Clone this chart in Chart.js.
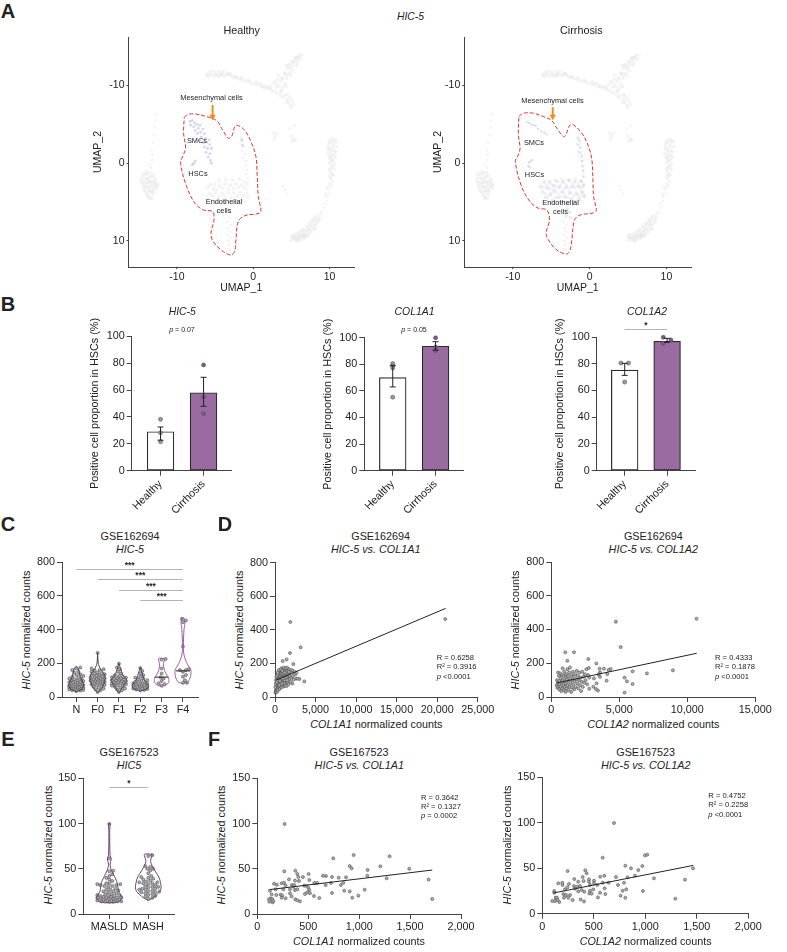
<!DOCTYPE html>
<html lang="en">
<head>
<meta charset="UTF-8" />
<title>HIC-5 figure</title>
<script src="https://cdn.jsdelivr.net/npm/chart.js"></script>
<style>
  html, body { margin: 0; background: #fff; }
  #page { position: relative; width: 787px; height: 952px; overflow: hidden; font-family: "Liberation Sans", Arial, sans-serif; color: #222; }
  canvas { position: absolute; }
  .t { position: absolute; white-space: nowrap; line-height: 1; }
</style>
</head>
<body>
<div id="page"></div>
<script>
// ---------- panel A: UMAP values ----------
const umapBackground = [
  [-14.7,2.2],[-14.5,1.4],[-14.4,2.9],[-14.2,1.9],[-14.2,3.5],[-14,2.6],[-14,1],[-13.9,4.1],[-13.8,3.1],[-13.7,1.8],[-13.6,4.5],[-13.5,2.3],[-13.5,3.7],[-13.4,1.2],[-13.3,2.9],[-13.2,4],[-13.1,3.3],[-13,2.2],[-12.9,3],[-12.8,2.5],[-12.6,3.2],[-12.5,2.7],[-14.3,2.4],[-13.9,2.1],[-13.6,3],
  [-14.6,1.8],[-14.6,2.6],[-14.4,3.3],[-14.1,1.4],[-14.1,3],[-14,3.8],[-13.8,1.3],[-13.8,2.5],[-13.7,3.5],[-13.7,4.3],[-13.4,1.7],[-13.4,2.5],[-13.3,3.5],[-13.3,4.5],[-13.1,1.6],[-13.1,2.6],[-13,3.7],[-12.8,2],[-12.7,2.9],
  [-6.1,-11.4],[-5.8,-11.6],[-5.4,-11.3],[-5.1,-11.8],[-4.8,-11.5],[-4.5,-11.9],[-4.2,-11.6],[-3.9,-11.8],[-3.6,-11.3],[-3.2,-11.5],[-2.8,-11.2],[-2.5,-11],[-2.1,-11],[-1.7,-10.8],[-1.2,-10.6],[-0.8,-10.6],[-0.3,-10.3],[0.2,-10.2],[0.6,-10.1],[1.1,-9.9],[1.5,-9.7],[2,-9.6],[2.4,-9.4],[2.8,-9.2],[3.2,-9],[3.6,-8.7],[3.9,-8.5],[4.2,-8.8],[4.4,-8.2],[4.6,-7.9],[4.8,-7.5],[5,-7.2],[4.3,-7.8],[3.7,-9.2],[4.5,-8.8],
  [-5.9,-11.2],[-5.5,-11.8],[-5,-11.3],[-4.6,-11.2],[-4.3,-11.3],[-4,-11.3],[-3.4,-11.6],[-3,-11.5],[-2.3,-11.2],[-1.5,-11],[-0.5,-10.6],[0.4,-10.5],[0.9,-10.3],[1.3,-10],[1.8,-9.9],[2.2,-9.8],
  [6.4,-13.9],[6.2,-13.4],[5.9,-13.6],[5.6,-13.3],[5.3,-13],[5.8,-12.9],[5.1,-12.5],[4.8,-12.8],[4.5,-12.2],[5.2,-11.9],[4.7,-11.6],[4.2,-11.6],[3.9,-11],[4.4,-10.9],[3.6,-10.5],[3.2,-10.8],[4.1,-10.2],[3.4,-9.9],[2.8,-10.5],[3,-9.8],[2.5,-10.2],
  [6,-13.9],[5.7,-13.6],[5.4,-13.6],[5.6,-12.6],[5.1,-13.1],[4.9,-12.2],[4.6,-12.6],[4.3,-12.6],[4.9,-11.3],[4.4,-11.3],[4,-11.6],[3.7,-10.9],[3.3,-11.3],[4.3,-9.9],[3.9,-9.7],[3.1,-10.2],[3.6,-9.4],[4.8,-8.4],[5.1,-8.1],[5.3,-7.6],
  [2.6,-3.9],[2.9,-3.5],[2.7,-3.1],[3.1,-3.9],[5,-3.5],[5.3,-3.1],[5.1,-2.8],[5.5,-3],
  [10.1,-3],[10.5,-3.1],[10.9,-2.8],[9.9,-2.4],[10.4,-2.5],[11,-2.1],[9.8,-1.8],[10.3,-1.9],[10.8,-1.5],[9.8,-1.2],[10.3,-1.1],[10.8,-0.8],[10,-0.6],[10.5,-0.4],[10,0],[10.6,0.1],[10.2,0.5],[10.6,0.8],[10.1,1.1],[10.5,1.5],[10.2,1.9],[10.4,2.3],[10,2.6],[10.2,3],
  [10,-2.7],[10.6,-2.8],[9.9,-2],[10.6,-2.2],[10.1,-1.5],[10.5,-1.6],[10,-0.9],[10.6,-1],[10.3,-0.6],[10.2,-0.2],[10.4,0.4],[10,0.8],[10.3,1.4],[10,1.7],[9.7,3.1],[9.5,4],
  [8.8,6.5],[8.4,6.8],[8.7,7.1],[8.1,7.2],[8.4,7.6],[7.8,7.5],[8.2,8],[7.5,7.9],[7.9,8.4],[7.2,8.2],[7.6,8.8],[7,8.6],[7.3,9.1],[6.7,8.8],[6.9,9.4],[6.4,9.1],[6.6,9.7],[6.1,9.3],[6.2,9.8],[5.8,9.4],[5.9,10],[5.5,9.5],[5.6,9.9],[5.2,9.5],[6.7,9.4],[7.4,8.5],[8,7.8],[6.3,8.7],[5,9.9],
  [8.5,7.3],[8,6.9],[8.1,8.5],[7.7,8.1],[7.3,7.7],[7.2,8.8],[6.9,8.1],[6.8,9.1],[6.5,8.5],[6.5,9.3],[6.2,9.4],[6,8.9],[5.9,9.7],[5.6,9.1],[5.4,9.7],[5.2,9.2],[7.1,9.3],[7.7,7.3],[5,9.5]
];
const umapThin = [
  [-13.4,0.6],[-13.6,0.2],[-13.3,-0.4],[-13.2,-1.1],[-13.3,-1.7],[-13.2,-2.6],[-13,-3.6],[-12.9,-4.6],[-12.8,-5.5],[-12.7,-6.3],
  [9.8,3.4],[9.9,3.9],[9.6,4.3],[9.6,4.8],[9.3,5.2],[9.2,5.7],[9,6.2],
  [4.8,-4.5],[5.4,-4.8],[3.9,2.9],[4.2,3.4],[4.4,3.9],
  [-1.6,-3.3],[-1.4,-2.9],[-1.7,-2.5],[-1.3,-2.1],[-1.5,-1.6],[-1.1,-1.2],[-1.3,-0.7],[-0.9,-0.3],[-1,0.3],[-0.8,0.8],[-0.9,1.4],[-0.7,1.9],
  [-3.2,6.1],[-3.5,6.6],[-3.1,7],[-3.4,7.5],[-3,7.9],[-3.3,8.4],[-3.1,8.8],[-3.4,9.2],[-3,9.6],[-3.3,10],[-3.1,10.5],[-3.3,11],[-3,11.2]
];
const umapVessel = [
  [-6,3.1],[-5.6,2.8],[-5.2,3.3],[-5,2.7],[-4.7,3.4],[-4.4,2.9],[-4,3.2],[-3.7,2.7],[-3.3,3.3],[-3,2.8],[-2.6,3.2],[-2.3,2.7],[-1.9,3.1],[-1.5,2.8],[-1.1,3.2],[-0.8,2.7],[-5.7,3.9],[-5.3,4.2],[-4.9,3.8],[-4.5,4.4],[-4.1,3.9],[-3.7,4.3],[-3.3,3.8],[-2.9,4.4],[-2.5,3.8],[-2.1,4.2],[-1.7,3.8],[-1.3,4.2],[-0.9,3.8],[-0.7,4.3],[-5.4,4.8],[-4.9,5],[-4.3,4.9],[-3.8,5.1],[-3.2,4.9],[-2.6,5],[-2,4.9],[-1.5,4.8],[-1,4.9],[-4.5,2.2],[-3.6,2.1],[-2.7,2.2],[-1.8,2],[-1.1,2.3]
];
const smcHealthy = [
  [-8.3,-5.4],[-8,-5.5],[-7.7,-5.2],[-8.2,-4.9],[-7.8,-4.7],[-7.4,-5],[-7.2,-4.5],[-7.6,-4.2],[-7,-4.9],[-6.9,-4],[-7.3,-3.8],[-6.6,-4.4],[-6.4,-3.8],[-6.8,-3.4],[-7,-2.9],[-6.3,-3.2],[-6.1,-2.7],[-6.6,-2.6],[-5.8,-3],[-5.7,-2.4],[-6.4,-2.1],[-6,-1.9],[-5.5,-1.9],[-6.2,-1.4],[-5.7,-1.2],[-5.9,-0.8],[-5.6,-0.4],[-5.5,0],[-7.8,0],[-8,0.2],[-7.6,-0.3],[-1.5,-3],[-1.4,-2.3]
];
const smcCirrhosis = [
  [-8.2,-5.3],[-7.9,-5.2],[-7.6,-5],[-7.3,-4.9],[-7,-4.8],[-6.7,-4.4],[-6.3,-4.1],[-5.9,-3.9],[-5.6,-3.7],[-7.9,-0.1],[-7.7,-0.2],[-7.5,-0.4],[-8,0.3],[-7.8,0.5],
  [-1.5,-3.2],[-1.3,-2.9],[-1.5,-2.4],[-1.2,-2],[-1.3,-1.4],[-1,-0.9],[-1,-0.3],[-0.9,0.4],[-0.8,1],[-0.8,1.7]
];
const endoCirrhosis = [
  [-6.4,3],[-6.1,3.7],[-5.9,2.4],[-5.7,4.4],[-5.5,3.2],[-5.2,2.4],[-5.1,4],[-4.8,4.8],[-4.7,2.9],[-4.5,3.6],[-4.2,2.3],[-4.1,4.4],[-3.9,3],[-3.7,5],[-3.6,3.7],[-3.4,2.4],[-3.2,4.3],[-3,3.1],[-2.9,5.2],[-2.7,2.2],[-2.6,3.8],[-2.4,4.6],[-2.2,3],[-2,5],[-1.9,2.4],[-1.7,4],[-1.4,3],[-1.3,4.6],[-1.1,2.3],[-1,3.7],[-0.8,2.9],[-0.7,4.2],[-2.9,5.9],[-2.6,6.3],[-3,6.7],[-2.5,7]
];
const outlineHealthy = [
  [-9.04,-5.92],[-8.52,-6.31],[-7.42,-6.31],[-6.11,-6.01],[-4.8,-5.49],[-4.15,-4.51],[-3.28,-3.22],[-2.84,-3.43],[-2.4,-4.72],[-1.97,-4.85],[-1.09,-4.21],[-0.22,-2.58],[0.35,-0.86],[0.52,1.72],[0.66,4.29],[1,6.22],[0.44,6.52],[-1.09,6.74],[-1.97,7.51],[-2.27,9.87],[-2.4,11.16],[-2.84,11.8],[-3.93,11.37],[-5.24,10.09],[-5.55,9.01],[-5.15,7.3],[-5.33,6.22],[-6.55,6.01],[-7.64,5.15],[-8.73,3],[-9.52,0],[-9.17,-1.07],[-8.86,-1.93],[-9.13,-3.86],[-9.04,-5.92]
];
const outlineCirrhosis = [
  [-9.19,-6.01],[-8.62,-6.44],[-7.31,-6.44],[-6.01,-6.01],[-4.92,-5.49],[-4.27,-4.51],[-3.4,-3.43],[-3.09,-3.65],[-2.53,-4.94],[-2.09,-4.94],[-1,-3.86],[-0.13,-2.15],[0.3,-0.43],[0.44,2.15],[0.52,4.29],[0.87,6.09],[0.3,6.44],[-1.22,6.65],[-1.96,7.3],[-2.31,9.87],[-2.53,11.16],[-2.96,11.67],[-4.27,11.16],[-5.35,9.87],[-5.66,9.01],[-5.22,7.3],[-5.57,6.01],[-6.66,5.79],[-7.75,4.94],[-8.84,3],[-9.66,-0.21],[-9.27,-1.07],[-9.05,-1.93],[-9.27,-3.86],[-9.19,-6.01]
];
const arrowHealthy = [[-5.33,-7.5],[-5.33,-6]];
const arrowCirrhosis = [[-4.79,-7.2],[-4.79,-6]];
const umapTicks = [-10, 0, 10];

// ---------- panel B: bars ----------
const groupsB = ['Healthy', 'Cirrhosis'];
const percentTicks = [0, 20, 40, 60, 80, 100];
const hic5Bars = [29, 58], hic5Hi = [32.5, 69.5], hic5Lo = [22.7, 48];
const hic5Dots = [[0,38.2],[0,28.3],[0,21.6],[1,78.7],[1,54.8],[1,42.4]];
const col1a1Bars = [70, 93.6], col1a1Hi = [79, 97], col1a1Lo = [63, 90.6];
const col1a1Dots = [[0,80.6],[0,78.8],[0,77.3],[0,55.3],[1,99.9],[1,93],[1,90.4]];
const col1a2Bars = [75.3, 96.8], col1a2Hi = [80.3, 99], col1a2Lo = [71.3, 96];
const col1a2Dots = [[-0.09,80.5],[0.09,80.5],[0,66.3],[0.91,99.8],[1.09,97.8],[0.91,95.3]];

// ---------- panel C: violins ----------
const stages = ['N', 'F0', 'F1', 'F2', 'F3', 'F4'];
const countTicks = [0, 200, 400, 600, 800];
const hic5N = [175,170,160,150,145,135,130,125,120,115,110,108,105,100,100,95,92,90,88,85,85,82,80,78,75,72,70,70,68,65,65,62,60,60,58,55,55,52,50,50,48,45,42,40,38,35];
const hic5F0 = [262,170,165,160,158,150,145,140,138,135,132,130,128,125,120,118,115,112,110,108,105,102,100,98,95,92,90,88,85,82,80,78,75,72,70,65,60,55,50,45,40,30];
const hic5F1 = [198,175,165,150,140,130,125,120,118,115,112,110,108,105,102,100,98,95,92,90,88,85,82,80,78,75,72,68,65,60,55,50,45,40,30];
const hic5F2 = [172,155,140,130,120,115,110,105,100,95,90,88,85,82,80,78,75,72,70,68,65,62,60,58,55,55,52,50,48,45,42,40];
const hic5F3 = [226,222,170,140,117,110,95,81,77,67];
const hic5F4 = [464,455,445,300,167,160,160,150,131,121,100,85,85];
// [count, half width as a share of one category]
const violinN = [[182,0],[170,.09],[120,.19],[70,.35],[50,.28],[30,0]];
const violinF0 = [[262,0],[200,.03],[170,.12],[130,.33],[100,.35],[60,.23],[25,0]];
const violinF1 = [[200,0],[170,.07],[130,.19],[100,.37],[70,.23],[40,.09],[25,0]];
const violinF2 = [[175,0],[140,.09],[100,.19],[70,.37],[50,.33],[35,0]];
const violinF3 = [[228,.14],[190,.09],[150,.16],[110,.33],[85,.33],[67,.14]];
const violinF4 = [[470,.05],[440,.09],[400,.05],[300,.02],[250,.05],[200,.19],[160,.37],[120,.35],[90,.23],[78,0]];
const medianStages = [[4,118],[5,155]];
const sigStages = [[0,5,762,'***'],[1,5,699,'***'],[2,5,635,'***'],[3,5,576,'***']];

// ---------- panel D ----------
const col1a1Counts = [
  [1890,447],[21000,464],[3165,296],[1850,262],[945,214],[1440,224],[2260,196],[3617,93],[3000,107],[2590,109],[2137,81],
  [60,25],[100,35],[120,28],[150,45],[180,38],[200,55],[220,30],[250,60],[260,42],[280,75],[300,50],[320,85],[340,62],[350,105],[370,40],[390,70],[400,120],[420,95],[440,55],[450,140],[470,78],[490,110],[510,65],[520,130],[540,90],[560,150],[580,48],[600,105],[610,125],[630,75],[650,160],[670,88],[680,135],[700,60],[720,115],[740,145],[760,95],[780,170],[800,70],[820,125],[840,105],[860,150],[880,85],[900,135],[920,60],[940,115],[960,165],[980,95],[1000,140],[1020,75],[1050,120],[1070,175],[1090,100],[1110,150],[1130,65],[1150,130],[1180,85],[1200,160],[1220,110],[1250,140],[1280,70],[1300,120],[1320,170],[1350,95],[1380,150],[1400,130],[1430,65],[1460,110],[1490,175],[1520,140],[1550,85],[1580,120],[1620,160],[1660,75],[1700,135],[1740,105],[1780,165],[1830,125],[1880,145],[1930,90],[2000,150],[2050,115],[2120,160],[2200,125],[2300,105],[2380,150],[2500,135],[2650,145],[2800,110],
  [40,60],[80,80],[130,100],[170,120],[230,90],[270,130],[330,145],[380,100],[460,160],[530,70],[620,95],[710,165],[830,80],[910,155],[1010,110],[1170,145],[1240,100],[1370,115],[1510,100],[1690,150]
];
const col1a2Counts = [
  [4750,446],[10680,464],[5100,296],[1030,265],[1670,265],[1176,215],[2720,225],[3310,199],[3550,168],[3870,168],[4210,160],[4360,166],[4070,97],[5390,115],[5560,93],[5390,26],[5980,77],[5980,152],[7030,140],[8940,158],[4116,136],[3577,146],[3480,134],[3330,81],[3430,38],[3280,47],[3090,61],[2790,49],[3577,120],[3136,110],[2793,115],
  [400,70],[420,100],[450,55],[480,85],[500,145],[520,65],[560,125],[580,45],[600,95],[620,75],[650,140],[680,60],[700,110],[730,35],[760,85],[780,130],[800,50],[830,170],[850,100],[880,70],[900,125],[920,40],[950,150],[970,90],[1000,60],[1020,115],[1050,30],[1080,135],[1100,80],[1130,50],[1150,105],[1180,165],[1200,70],[1230,125],[1260,40],[1280,95],[1310,145],[1340,60],[1370,175],[1400,110],[1430,80],[1460,30],[1490,130],[1520,55],[1550,100],[1580,150],[1610,75],[1640,120],[1680,45],[1710,95],[1750,135],[1790,60],[1830,105],[1870,155],[1910,80],[1950,125],[1990,50],[2030,100],[2070,145],[2110,70],[2150,115],[2190,35],[2230,90],[2280,150],[2320,60],[2370,120],[2420,85],[2470,135],[2520,100],[2580,165],[2640,75],[2700,130],[2760,172]
];
const fitD1 = [[100,100],[21050,528]];
const fitD2 = [[400,83],[10690,259]];
const xTicksD1 = [0, 5000, 10000, 15000, 20000, 25000];
const xTicksD2 = [0, 5000, 10000, 15000];

// ---------- panel E ----------
const groupsE = ['MASLD', 'MASH'];
const smallCountTicks = [0, 50, 100, 150];
const hic5Masld = [99.5,61.5,47.9,47.2,44,42,40,38,36.5,34,34,33,33,32,32,31,31,30,28,27,27,26,25,25,24,23,22,22,21,21,20,20,20,19,19,18.5,18,18,18,17,17,17,16,16,16,15,15,15,14,14,14,14,13.5,13.5];
const hic5Mash = [65,64,53,52,50,50,48,45,42,41,40,39,38,37,36,35,35,34,34,33,32,31,30,30,29,28,28,27,27,26,25,25,24,24,23,22,21,20,19,18,17];
const violinMasld = [[100,.02],[90,.01],[65,.02],[61,.05],[55,.02],[50,.04],[45,.09],[35,.2],[25,.24],[18,.33],[13,.23]];
const violinMash = [[66,.1],[58,.06],[50,.14],[40,.28],[30,.33],[25,.3],[18,.13],[15,0]];
const sigE = [[0,1,140,'*']];

// ---------- panel F ----------
const col1a1Small = [
  [268,99.5],[746,61.6],[946,65.2],[1299,63.8],[907,53],[926,50.5],[1208,52.7],[1492,50],[1083,48.7],[1682,38],[1718,16.6],[1270,39.4],[1080,42.4],[265,47.2],[373,47.9],[393,44.2],[504,44.2],[645,42.4],[674,42],[448,40.9],[403,40.9],[733,40.9],[799,40.2],[871,40.5],[311,38.3],[370,36.9],[409,36.5],[511,37.6],[566,33.9],[589,34.3],[560,34.3],[723,34.3],[844,34.6],[821,32],[671,32],[164,33.5],[193,32.4],[239,33.9],[262,34.6],[278,31.7],[461,31.3],[340,32],[353,30.2],[363,32],[501,29.1],[484,31],[511,26.5],[124,25.8],[180,27.3],[255,27.3],[320,27.3],[370,26.5],[393,27.3],[517,22.9],[491,24],[468,22.1],[733,23.2],[854,25.8],[907,25],[1054,26.9],[992,20.3],[933,18],[609,17.7],[556,19.9],[337,19.5],[229,21.4],[245,20.3],[187,21],[141,21.7],[278,17.3],[239,18],[373,16.2],[393,15.1],[419,14],[118,13.6],[131,17.3],[147,16.6],[151,12.9],[157,14.4],[115,16.2],[321,22.9]
];
const col1a2Small = [
  [696,99.5],[586,61.5],[997,64],[1019,64.8],[806,52.7],[861,49.8],[971,52.3],[932,47.9],[1463,49.8],[246,46.8],[417,47.6],[430,44.3],[392,40.2],[563,40.6],[602,41.7],[715,40.2],[828,39.9],[900,41.7],[1084,38.8],[1385,37.3],[1291,16.5],[977,24.9],[155,33.3],[194,34],[197,31.5],[259,32.6],[311,38],[349,35.1],[401,35.9],[453,37.7],[453,35.1],[502,36.2],[463,31.5],[502,33.3],[534,31.5],[586,34],[644,34],[735,31.5],[793,34],[780,25.2],[815,26.7],[605,27.8],[560,23],[612,21.6],[540,17.9],[760,19.8],[806,17.6],[116,24.9],[116,23],[220,26.7],[243,28.9],[307,30.4],[340,29.6],[366,30.4],[317,27.4],[349,24.5],[382,26],[408,24.1],[463,25.2],[495,26.7],[456,22.3],[479,22],[204,21.6],[230,20.5],[269,20.5],[252,17.6],[210,17.6],[294,15],[372,15.7],[405,13.5],[97,13.9],[129,17.6],[142,17.6],[123,13.9],[149,15],[165,12.8]
];
const fitF1 = [[124,27],[1718,48.6]];
const fitF2 = [[107,22.7],[1466,53]];
const xTicksF = [0, 500, 1000, 1500, 2000];

// ---------- helpers ----------
const page = document.getElementById('page');
const axisColor = '#444';
const fontFamily = '"Liberation Sans", Arial, sans-serif';
const purple = '#9a6ba1';
const toXY = a => a.map(p => ({ x: p[0], y: p[1] }));

function text(html, x, y, size, o = {}) {
  const el = document.createElement('div');
  el.className = 't';
  el.innerHTML = html;
  el.style.left = x + 'px';
  el.style.top = y + 'px';
  el.style.fontSize = size + 'px';
  if (o.bold) el.style.fontWeight = 'bold';
  el.style.transform = (o.left ? 'translate(0,-50%)' : 'translate(-50%,-50%)') + (o.rot ? ' rotate(' + o.rot + 'deg)' : '');
  page.appendChild(el);
}

function axis(values, min, max, o = {}) {
  return {
    type: 'linear', min, max, reverse: !!o.reverse, offset: false,
    afterBuildTicks: s => { s.ticks = values.map(value => ({ value })); },
    afterFit: s => { s.paddingLeft = s.paddingRight = s.paddingTop = s.paddingBottom = 0; },
    border: { display: true, color: axisColor, width: 1 },
    grid: { display: true, drawOnChartArea: false, drawTicks: true, tickLength: o.tick || 5, color: axisColor, offset: false },
    title: o.title ? { display: true, text: o.title, color: '#222', padding: 0, font: { family: fontFamily, size: o.titleSize || 10.8 } } : { display: false },
    ticks: {
      autoSkip: false, padding: 2, color: '#222', font: { family: fontFamily, size: o.font || 10.8 },
      minRotation: o.rot || 0, maxRotation: o.rot || 0,
      callback: v => o.labels ? o.labels[v] : v.toLocaleString('en-US')
    }
  };
}

// rect and plot are [left, top, right, bottom] on the page
function panel(rect, plot, type, datasets, xAxis, yAxis, plugins = []) {
  const c = document.createElement('canvas');
  c.width = rect[2] - rect[0];
  c.height = rect[3] - rect[1];
  c.style.left = rect[0] + 'px';
  c.style.top = rect[1] + 'px';
  page.appendChild(c);
  xAxis.afterFit = (f => s => { s.height = rect[3] - plot[3]; f(s); })(xAxis.afterFit);
  yAxis.afterFit = (f => s => { s.width = plot[0] - rect[0]; f(s); })(yAxis.afterFit);
  return new Chart(c, {
    type, data: { datasets },
    options: {
      responsive: false, animation: false,
      layout: { padding: { top: plot[1] - rect[1], right: rect[2] - plot[2], left: 0, bottom: 0 } },
      plugins: { legend: { display: false }, tooltip: { enabled: false }, title: { display: false } },
      scales: { x: xAxis, y: yAxis }
    },
    plugins
  });
}

function dots(points, fill = '#b0b0b0', stroke = '#4a4a4a', radius = 1.5) {
  return { type: 'scatter', data: points, pointRadius: radius, pointBackgroundColor: fill, pointBorderColor: stroke, pointBorderWidth: 0.6, clip: false, order: 1 };
}
function cloud(points, color, radius) {
  return { type: 'scatter', data: toXY(points), pointRadius: radius, pointBackgroundColor: color, pointBorderWidth: 0, order: 3 };
}
function line(points, color, width, o = {}) {
  return { type: 'scatter', showLine: true, data: toXY(points), borderColor: color, borderWidth: width, pointRadius: 0, clip: false, order: 0, ...o };
}

// sideways spread of one group, kept inside maxPx so it stays as narrow as the violin
function swarm(values, index, pxPerValue, pxPerCategory, maxPx) {
  const placed = [], out = [], gap = 3.2;
  [...values].sort((a, b) => a - b).forEach(v => {
    const y = v * pxPerValue;
    let best = 0, bestDist = -1;
    for (let k = 0; k <= maxPx * 2; k++) {
      const offset = (k % 2 ? 1 : -1) * Math.ceil(k / 2);
      const d = Math.min(Infinity, ...placed.map(p => Math.hypot(p[0] - offset, p[1] - y)));
      if (d > bestDist) { bestDist = d; best = offset; }
      if (d >= gap) break;
    }
    placed.push([best, y]);
    out.push({ x: index + best / pxPerCategory, y: v });
  });
  return out;
}
function violin(profile, index, color) {
  const right = profile.map(p => [index + p[1], p[0]]);
  const left = profile.map(p => [index - p[1], p[0]]).reverse();
  return line([...right, ...left, right[0]], color, 1, { tension: 0.25 });
}
function medians(list, halfWidth) {
  return list.map(m => line([[m[0] - halfWidth, m[1]], [m[0] + halfWidth, m[1]]], '#222', 1));
}

function errorBars(hi, lo) {
  return {
    id: 'errorBars',
    afterDatasetsDraw(chart) {
      const { ctx, scales: { x, y } } = chart;
      ctx.save();
      ctx.strokeStyle = '#222';
      ctx.lineWidth = 1;
      hi.forEach((h, i) => {
        const px = x.getPixelForValue(i), top = y.getPixelForValue(h), bot = y.getPixelForValue(lo[i]);
        ctx.beginPath();
        ctx.moveTo(px, top); ctx.lineTo(px, bot);
        ctx.moveTo(px - 3, top); ctx.lineTo(px + 3, top);
        ctx.moveTo(px - 3, bot); ctx.lineTo(px + 3, bot);
        ctx.stroke();
      });
      ctx.restore();
    }
  };
}
function sigBars(list) {
  return {
    id: 'sigBars',
    afterDatasetsDraw(chart) {
      const { ctx, scales: { x, y } } = chart;
      ctx.save();
      list.forEach(s => {
        const a = x.getPixelForValue(s[0]), b = x.getPixelForValue(s[1]), py = Math.round(y.getPixelForValue(s[2])) + 0.5;
        ctx.strokeStyle = '#b3b3b3';
        ctx.lineWidth = 1;
        ctx.beginPath(); ctx.moveTo(a, py); ctx.lineTo(b, py); ctx.stroke();
        ctx.fillStyle = '#222';
        ctx.font = 'bold 8.5px ' + fontFamily;
        ctx.textAlign = 'center';
        ctx.textBaseline = 'middle';
        ctx.fillText(s[3], (a + b) / 2, py - 3.5);
      });
      ctx.restore();
    }
  };
}

// ---------- panel A ----------
function umapPanel(rect, plot, xr, outline, arrow, extra) {
  panel(rect, plot, 'scatter', [
    cloud(umapBackground, 'rgba(190,190,196,0.17)', 1.9),
    cloud(umapThin, 'rgba(190,190,196,0.25)', 1.1),
    cloud(umapVessel, 'rgba(190,190,198,0.18)', 1.9),
    ...extra,
    line(outline, '#d9362e', 1, { borderDash: [4, 2], tension: 0.35 }),
    line(arrow, '#f08c1a', 2),
    { type: 'scatter', data: toXY([arrow[1]]), pointStyle: 'triangle', rotation: 180, pointRadius: 3.6, pointBackgroundColor: '#f08c1a', pointBorderWidth: 0, clip: false, order: 0 }
  ],
    axis(umapTicks, xr[0], xr[1], { tick: 2, font: 10.5, title: 'UMAP_1', titleSize: 10.5 }),
    axis(umapTicks, -16.25, 13.35, { tick: 2, font: 10.5, reverse: true, title: 'UMAP_2', titleSize: 10.5 }));
}
umapPanel([92, 20, 358, 294], [128.5, 37, 354, 267], [-16.35, 13.2], outlineHealthy, arrowHealthy, [
  cloud(smcHealthy, 'rgba(135,120,205,0.32)', 1.4)
]);
umapPanel([432, 20, 695, 294], [464.3, 37, 691, 267], [-16.3, 13.2], outlineCirrhosis, arrowCirrhosis, [
  cloud(endoCirrhosis, 'rgba(165,160,205,0.22)', 1.9),
  cloud(smcCirrhosis, 'rgba(135,120,205,0.32)', 1.1)
]);
text('<i>HIC-5</i>', 410.5, 17, 10.4);
text('Healthy', 241.7, 30, 10.8);
text('Cirrhosis', 581.3, 30, 10.8);
text('Mesenchymal cells', 211.5, 97.5, 7.4);
text('Mesenchymal cells', 552.5, 100.5, 7.4);
text('SMCs', 197, 141, 7.4); text('HSCs', 198, 174, 7.4); text('Endothelial', 224, 201.5, 7.4); text('cells', 224, 211, 7.4);
text('SMCs', 534, 143, 7.4); text('HSCs', 534.5, 175, 7.4); text('Endothelial', 560.5, 203, 7.4); text('cells', 560.5, 212, 7.4);

// ---------- panel B ----------
function barPanel(rect, plot, bars, hi, lo, points, range, extra = []) {
  panel(rect, plot, 'bar', [
    { type: 'bar', data: bars.map((y, x) => ({ x, y })), backgroundColor: ['#fff', purple], borderColor: '#2b2b2b', borderWidth: 1.2, barThickness: 26.7, borderSkipped: false, order: 2 },
    {
      ...dots(toXY(points)), pointRadius: 2,
      pointBackgroundColor: points.map(p => p[0] > 0.5 ? '#7b5a86' : '#9b9b9b'),
      pointBorderColor: points.map(p => p[0] > 0.5 ? '#5d4468' : '#555')
    }
  ],
    axis([0, 1], range[0], range[1], { labels: groupsB, rot: 45 }),
    axis(percentTicks, 0, 100, { title: 'Positive cell proportion in HSCs (%)' }),
    [errorBars(hi, lo), ...extra]);
}
barPanel([89, 312, 236, 520], [131.7, 336.3, 232, 470.7], hic5Bars, hic5Hi, hic5Lo, hic5Dots, [-0.67, 1.647]);
barPanel([322, 312, 468, 520], [364.3, 337.7, 464, 470.7], col1a1Bars, col1a1Hi, col1a1Lo, col1a1Dots, [-0.664, 1.65]);
barPanel([554, 312, 700, 520], [596.7, 337, 696.7, 470.7], col1a2Bars, col1a2Hi, col1a2Lo, col1a2Dots, [-0.66, 1.667], [sigBars([[0, 1, 106, '*']])]);
text('<i>HIC-5</i>', 182.3, 311.7, 10.4);
text('<i>COL1A1</i>', 414.5, 311.7, 10.4);
text('<i>COL1A2</i>', 647, 311.7, 10.4);
text('<i>p</i> = 0.07', 182, 328.7, 7);
text('<i>p</i> = 0.05', 414, 328.7, 7);

// ---------- panel C ----------
const groupsC = [hic5N, hic5F0, hic5F1, hic5F2, hic5F3, hic5F4];
const violinsC = [violinN, violinF0, violinF1, violinF2, violinF3, violinF4];
const violinColors = ['#4d3b52', '#4d3b52', '#5a3d61', '#5a3d61', '#9b5aa3', '#9b5aa3'];
panel([35, 555, 203, 716], [62, 562.3, 198.3, 697], 'scatter', [
  ...violinsC.map((v, i) => violin(v, i, violinColors[i])),
  ...groupsC.map((g, i) => dots(swarm(g, i, 134.7 / 800, 21.33, 7))),
  ...medians(medianStages, 0.33)
],
  axis([0, 1, 2, 3, 4, 5], -0.67, 5.72, { labels: stages }),
  axis(countTicks, 0, 800),
  [sigBars(sigStages)]);
text('GSE162694', 130, 535.7, 10.8);
text('<i>HIC-5</i>', 130, 549, 10.8);
text('<i>HIC-5</i> normalized counts', 26, 630, 10.8, { rot: -90 });

// ---------- panel D ----------
function scatterPanel(rect, plot, points, fit, xTicks, xMax, yTicks, yMax) {
  panel(rect, plot, 'scatter', [
    dots(toXY(points)),
    line(fit, '#222', 1)
  ], axis(xTicks, 0, xMax), axis(yTicks, 0, yMax));
}
scatterPanel([247, 555, 500, 716], [275, 562.7, 477.7, 697], col1a1Counts, fitD1, xTicksD1, 25000, countTicks, 800);
scatterPanel([525, 555, 775, 716], [551.3, 562, 755.3, 697], col1a2Counts, fitD2, xTicksD2, 15000, countTicks, 800);
text('GSE162694', 380.7, 535.7, 10.8);
text('<i>HIC-5 vs. COL1A1</i>', 375.7, 549, 10.8);
text('<i>HIC-5</i> normalized counts', 239, 630, 10.8, { rot: -90 });
text('<i>COL1A1</i> normalized counts', 376.3, 724.3, 10.8);
text('R = 0.6258', 436.7, 658, 7.6, { left: true });
text('R² = 0.3916', 436.7, 667.3, 7.6, { left: true });
text('<i>p</i> &lt;0.0001', 436.7, 677, 7.6, { left: true });
text('GSE162694', 653.3, 535.7, 10.8);
text('<i>HIC-5 vs. COL1A2</i>', 653.3, 549, 10.8);
text('<i>HIC-5</i> normalized counts', 515, 630, 10.8, { rot: -90 });
text('<i>COL1A2</i> normalized counts', 653.3, 724.3, 10.8);
text('R = 0.4333', 715, 658.3, 7.6, { left: true });
text('R² = 0.1878', 715, 667.3, 7.6, { left: true });
text('<i>p</i> &lt;0.0001', 715, 677, 7.6, { left: true });

// ---------- panel E ----------
panel([55, 772, 180, 935], [83.3, 778.3, 174, 914], 'scatter', [
  violin(violinMasld, 0, '#6d3f78'),
  violin(violinMash, 1, '#6d3f78'),
  dots(swarm(hic5Masld, 0, 135.7 / 150, 39, 12)),
  dots(swarm(hic5Mash, 1, 135.7 / 150, 39, 12))
],
  axis([0, 1], -0.667, 1.66, { labels: groupsE }),
  axis(smallCountTicks, 0, 150),
  [sigBars(sigE)]);
text('GSE167523', 129, 751.7, 10.8);
text('<i>HIC5</i>', 129, 764.7, 10.8);
text('<i>HIC-5</i> normalized counts', 47.7, 845, 10.8, { rot: -90 });

// ---------- panel F ----------
scatterPanel([232, 772, 480, 935], [257.3, 778.3, 461, 914], col1a1Small, fitF1, xTicksF, 2000, smallCountTicks, 150);
scatterPanel([518, 772, 770, 935], [542.3, 777, 748.3, 913.7], col1a2Small, fitF2, xTicksF, 2000, smallCountTicks, 150);
text('GSE167523', 359, 751.7, 10.8);
text('<i>HIC-5 vs. COL1A1</i>', 359.3, 765, 10.8);
text('<i>HIC-5</i> normalized counts', 220.7, 845, 10.8, { rot: -90 });
text('<i>COL1A1</i> normalized counts', 359, 940.7, 10.8);
text('R = 0.3642', 421, 797.7, 7.6, { left: true });
text('R² = 0.1327', 421, 806.7, 7.6, { left: true });
text('<i>p</i> = 0.0002', 421, 816.3, 7.6, { left: true });
text('GSE167523', 645.7, 751.7, 10.8);
text('<i>HIC-5 vs. COL1A2</i>', 645.7, 764.7, 10.8);
text('<i>HIC-5</i> normalized counts', 506.7, 845, 10.8, { rot: -90 });
text('<i>COL1A2</i> normalized counts', 645.7, 940.7, 10.8);
text('R = 0.4752', 708.3, 796, 7.6, { left: true });
text('R² = 0.2258', 708.3, 805, 7.6, { left: true });
text('<i>p</i> &lt;0.0001', 708.3, 815, 7.6, { left: true });

// panel letters
[['A', 8, 11], ['B', 8, 304], ['C', 8, 524], ['D', 225, 524], ['E', 8, 739], ['F', 214, 739]].forEach(l => text(l[0], l[1], l[2], 20, { bold: true }));
</script>
</body>
</html>
